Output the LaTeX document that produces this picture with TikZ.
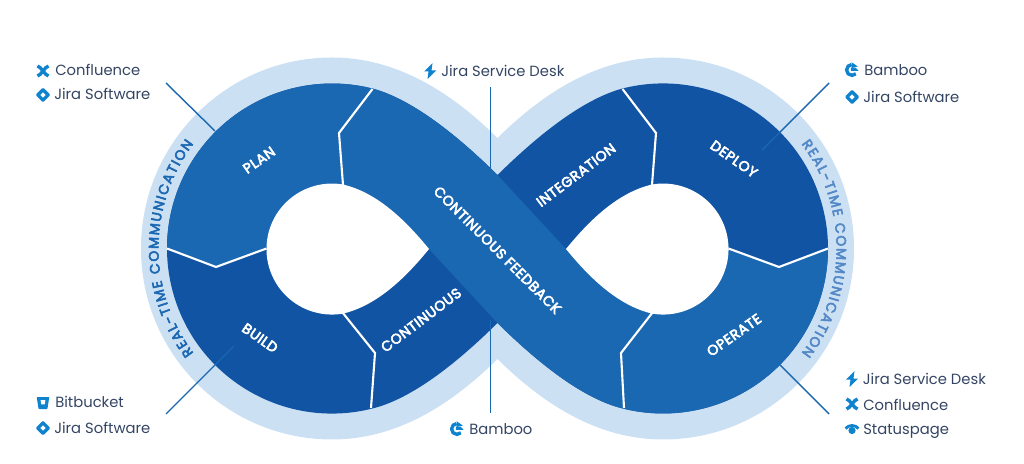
\documentclass[tikz,border=0pt]{standalone}
\usepackage{fontspec}
\setmainfont{Poppins}
\newfontfamily\stagefont[FakeBold=4,LetterSpace=4]{Poppins}
\newfontfamily\ringbase[FakeBold=4]{Poppins}
\protected\def\ringfont{\fontsize{9.8}{11}\ringbase}
\usetikzlibrary{decorations.text}
\definecolor{palering}{HTML}{CCE0F4}
\definecolor{lightband}{HTML}{1A67B2}
\definecolor{darkband}{HTML}{1154A3}
\definecolor{ringsoft}{HTML}{5388C7}
\definecolor{toolink}{HTML}{344563}
\definecolor{iconblue}{HTML}{1083CE}
\tikzset{
  tool/.style={font=\fontsize{10.5}{12}\selectfont, text=toolink, anchor=base west, inner sep=0pt},
  stage/.style={font=\fontsize{10}{11}\stagefont, text=white, inner sep=0pt},
  leader/.style={draw=lightband, line width=1pt},
  divider/.style={draw=white, line width=1.5pt, line join=miter},
  pics/confl/.style={code={
    \draw[iconblue, line width=2.4pt] (-5.5,-5) .. controls (-2,-4.5) and (2,4.5) .. (5.5,5);
    \draw[iconblue, line width=2.4pt] (-5.5,5) .. controls (-2,4.5) and (2,-4.5) .. (5.5,-5);
  }},
  pics/jirasw/.style={code={
    \fill[iconblue, rounded corners=1pt] (-7.5,0) -- (0,-7.5) -- (7.5,0) -- (0,7.5) -- cycle;
    \fill[white] (-2.6,0) -- (0,-2.6) -- (2.6,0) -- (0,2.6) -- cycle;
  }},
  pics/jsd/.style={code={
    \fill[iconblue] (2.5,8) -- (-6,-0.5) -- (-1.5,-0.5) -- (-2.5,-8) -- (6,0.5) -- (1.5,0.5) -- cycle;
  }},
  pics/bamboo/.style={code={
    \draw[iconblue, line width=2.4pt] (3.8,-3.8) arc[start angle=-45, end angle=-265, radius=5.4];
    \fill[iconblue] (-0.5,7.8) -- (5.8,3.5) -- (-0.5,2) -- cycle;
    \fill[iconblue] (-1.2,-0.8) -- (6.5,-0.8) -- (3.5,2.4) -- (-1.2,2.4) -- cycle;
  }},
  pics/bitb/.style={code={
    \fill[iconblue, rounded corners=0.5pt] (-6.3,6) -- (6.3,6) -- (4.4,-6) -- (-4.4,-6) -- cycle;
    \fill[white] (-2.4,2.8) -- (2.4,2.8) -- (1.7,-1.4) -- (-1.7,-1.4) -- cycle;
  }},
  pics/statusp/.style={code={
    \draw[iconblue, line width=2pt] (-6.5,0.5) .. controls (-3,4.5) and (3,4.5) .. (6.5,0.5);
    \fill[iconblue] (0,-1.5) circle[radius=3.6];
  }},
}
\begin{document}
\begin{tikzpicture}[x=0.025cm,y=0.025cm,yscale=-1]
  \useasboundingbox (0,0) rectangle (1024,464);

  % Outer ring
  \fill[palering] (332,439.5) arc[start angle=90, end angle=270, radius=191]
    .. controls (400,57.5) and (455,96) .. (497.5,138)
    .. controls (540,96) and (595,57.5) .. (663,57.5)
    arc[start angle=-90, end angle=90, radius=191]
    .. controls (595,439.5) and (540,401) .. (497.5,359)
    .. controls (455,401) and (400,439.5) .. (332,439.5) -- cycle;

  % Dark band
  \fill[darkband] (372.5,88.5)
    .. controls (415,100) and (462,140) .. (497.5,175)
    .. controls (533,140) and (580,100) .. (622.5,88.5)
    arc[start angle=-104.2, end angle=104.2, radius=165]
    .. controls (580,398) and (533,358) .. (497.5,323)
    .. controls (462,358) and (415,398) .. (372.5,408.5)
    arc[start angle=75.8, end angle=284.2, radius=165] -- cycle;

  % Light band
  \fill[lightband] (167,248.5) arc[start angle=180, end angle=284.2, radius=165]
    .. controls (415,100) and (462,140) .. (497.5,175) -- (566,249)
    .. controls (592,281) and (620,306) .. (652,313)
    arc[start angle=99.7, end angle=0, radius=65.5]
    -- (779,267) -- (828,248.5)
    arc[start angle=0, end angle=104.2, radius=165]
    .. controls (580,398) and (533,358) .. (497.5,323) -- (429,249)
    .. controls (403,217) and (375,192) .. (343,184.5)
    arc[start angle=279.7, end angle=180, radius=65.5]
    -- (216,267) -- cycle;

  % Holes
  \fill[white] (343,184.5) arc[start angle=279.7, end angle=80.3, radius=65.5]
    .. controls (375,306) and (403,281) .. (429,249)
    .. controls (403,217) and (375,192) .. (343,184.5) -- cycle;
  \fill[white] (652,184.5) arc[start angle=260.3, end angle=459.7, radius=65.5]
    .. controls (620,306) and (592,281) .. (566,249)
    .. controls (592,217) and (620,192) .. (652,184.5) -- cycle;

  % Dividers
  \draw[divider] (167,248.5) -- (216,267) -- (266.5,248.5);
  \draw[divider] (728.5,248.5) -- (779,267) -- (828,248.5);
  \draw[divider] (372.5,89) -- (339,133) -- (343,185);
  \draw[divider] (342.5,312.5) -- (375,353) -- (371,408);
  \draw[divider] (622.5,89) -- (656,133) -- (652,185);
  \draw[divider] (652.5,312.5) -- (621,353) -- (624,408);

  % Leaders
  \coordinate (planout) at (166,83);
  \coordinate (planin) at (215,131);
  \coordinate (feedout) at (490.3,87);
  \coordinate (feedin) at (490.3,170);
  \coordinate (deployout) at (829,83);
  \coordinate (deployin) at (762,150);
  \coordinate (buildout) at (166,414);
  \coordinate (buildin) at (234,346);
  \coordinate (contout) at (490.3,413);
  \coordinate (contin) at (490.3,320);
  \coordinate (operateout) at (829,414);
  \coordinate (operatein) at (780,365);
  \draw[leader] (planout) -- (planin);
  \draw[leader] (feedout) -- (feedin);
  \draw[leader] (deployout) -- (deployin);
  \draw[leader] (buildout) -- (buildin);
  \draw[leader] (contout) -- (contin);
  \draw[leader] (operateout) -- (operatein);

  % Stage labels
  \node[stage, rotate=35] (plan) at (259,160) {PLAN};
  \node[stage, rotate=-35] (build) at (260,338) {BUILD};
  \node[stage, rotate=37] (continuous) at (421,320) {CONTINUOUS};
  \node[stage, rotate=37] (integration) at (576,175) {INTEGRATION};
  \node[stage, rotate=-35] (deploy) at (734,159) {DEPLOY};
  \node[stage, rotate=35] (operate) at (734,335) {OPERATE};
  \node[stage, rotate=-45] (feedback) at (497.5,250) {CONTINUOUS FEEDBACK};

  % Ring text
  \path[decorate, decoration={text effects along path, text={REAL-TIME COMMUNICATION}, text align=center,
      text effects/.cd, text along path, characters={font=\ringfont, text=lightband},
        character widths={font=\ringfont, inner xsep=0.55pt}}]
    (332,248.5) ++(130:173.5) arc[start angle=130, end angle=230, radius=173.5];
  \path[decorate, decoration={text effects along path, text={REAL-TIME COMMUNICATION}, text align=center,
      text effects/.cd, text along path, characters={font=\ringfont, text=ringsoft},
        character widths={font=\ringfont, inner xsep=0.55pt}}]
    (663,248.5) ++(-50:173.5) arc[start angle=-50, end angle=50, radius=173.5];

  % Tools, top left
  \pic at (43,71) {confl};
  \node[tool] (confluenceA) at (55,76) {Confluence};
  \pic at (43,95) {jirasw};
  \node[tool] (jiraA) at (54,100) {Jira Software};

  % Tool, top centre
  \pic at (430,71) {jsd};
  \node[tool] (servicedeskA) at (441,76.5) {Jira Service Desk};

  % Tools, top right
  \pic at (852,70) {bamboo};
  \node[tool] (bambooA) at (864,75.5) {Bamboo};
  \pic at (852,97) {jirasw};
  \node[tool] (jiraB) at (863,102.5) {Jira Software};

  % Tools, bottom left
  \pic at (43,403) {bitb};
  \node[tool] (bitbucket) at (55,407.5) {Bitbucket};
  \pic at (43,428) {jirasw};
  \node[tool] (jiraC) at (54,433.5) {Jira Software};

  % Tool, bottom centre
  \pic at (457,429) {bamboo};
  \node[tool] (bambooB) at (469,434) {Bamboo};

  % Tools, bottom right
  \pic at (852,379) {jsd};
  \node[tool] (servicedeskB) at (862.5,384.5) {Jira Service Desk};
  \pic at (852,404) {confl};
  \node[tool] (confluenceB) at (863,410) {Confluence};
  \pic at (852,429) {statusp};
  \node[tool] (statuspage) at (863,434) {Statuspage};
\end{tikzpicture}
\end{document}
